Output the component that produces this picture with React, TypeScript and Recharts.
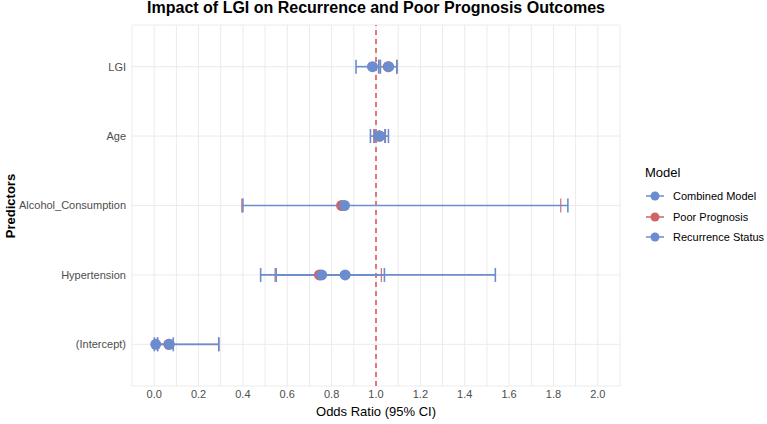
import React from "react";
import {
  ScatterChart,
  Scatter,
  XAxis,
  YAxis,
  CartesianGrid,
  ErrorBar,
  ReferenceLine,
} from "recharts";

// bottom to top, as ggplot stacks a discrete axis
const predictors = ["(Intercept)", "Hypertension", "Alcohol_Consumption", "Age", "LGI"];

const combinedOR = [0.068, 0.755, 0.858, 1.016, 1.057];
const combinedLo = [0.016, 0.55, 0.4, 0.975, 1.02];
const combinedHi = [0.292, 1.038, 1.865, 1.056, 1.095];

const poorOR = [0.066, 0.745, 0.845, 1.015, 1.055];
const poorLo = [0.014, 0.545, 0.395, 0.99, 1.018];
const poorHi = [0.29, 1.024, 1.833, 1.043, 1.093];

const recurrenceOR = [0.007, 0.861, null, 1.016, 0.984];
const recurrenceLo = [0.0005, 0.48, null, 0.993, 0.91];
const recurrenceHi = [0.086, 1.538, null, 1.04, 1.012];

const xGridTicks = [
  -0.1, 0, 0.1, 0.2, 0.3, 0.4, 0.5, 0.6, 0.7, 0.8, 0.9, 1.0, 1.1, 1.2, 1.3, 1.4,
  1.5, 1.6, 1.7, 1.8, 1.9, 2.0, 2.1,
];
const xLabelTicks = [0, 0.2, 0.4, 0.6, 0.8, 1.0, 1.2, 1.4, 1.6, 1.8, 2.0];
const yTicks = [1, 2, 3, 4, 5];

const BLUE = "#6b8cce";
const RED = "#cd6467";

const legendItems = [
  { name: "Combined Model", color: BLUE },
  { name: "Poor Prognosis", color: RED },
  { name: "Recurrence Status", color: BLUE },
];

function buildRows(or: (number | null)[], lo: (number | null)[], hi: (number | null)[]) {
  const rows: { y: number; or: number; err: number[] }[] = [];
  or.forEach((v, i) => {
    if (v == null) return;
    rows.push({ y: i + 1, or: v, err: [v - (lo[i] as number), (hi[i] as number) - v] });
  });
  return rows;
}

const poorRows = buildRows(poorOR, poorLo, poorHi);
const combinedRows = buildRows(combinedOR, combinedLo, combinedHi);
const recurrenceRows = buildRows(recurrenceOR, recurrenceLo, recurrenceHi);

const dot = (color: string) => (p: any) =>
  <circle cx={p.cx} cy={p.cy} r={5.5} fill={color} />;

const fmtX = (v: number) =>
  xLabelTicks.some((t) => Math.abs(t - v) < 1e-9) ? v.toFixed(1) : "";

export default function App() {
  const font = "'Liberation Sans', Arial, sans-serif";
  return (
    <div
      style={{
        position: "absolute",
        left: 0,
        top: 0,
        width: 767,
        height: 424,
        background: "#fff",
        fontFamily: font,
        overflow: "hidden",
      }}
    >
      <div
        style={{
          position: "absolute",
          top: 0,
          left: 132,
          width: 488,
          textAlign: "center",
          fontSize: 16,
          lineHeight: "16px",
          fontWeight: "bold",
          whiteSpace: "nowrap",
        }}
      >
        Impact of LGI on Recurrence and Poor Prognosis Outcomes
      </div>

      <div
        style={{
          position: "absolute",
          left: 10,
          top: 206,
          transform: "translate(-50%, -50%) rotate(-90deg)",
          fontSize: 13,
          fontWeight: "bold",
          whiteSpace: "nowrap",
        }}
      >
        Predictors
      </div>

      <ScatterChart
        width={767}
        height={424}
        margin={{ top: 25, right: 147, bottom: 0, left: 0 }}
        style={{ fontFamily: font }}
      >
        <CartesianGrid stroke="#ebebeb" strokeWidth={1} />
        <XAxis
          type="number"
          dataKey="or"
          domain={[-0.1, 2.1]}
          ticks={xGridTicks}
          interval={0}
          tickFormatter={fmtX}
          height={38}
          tickLine={false}
          axisLine={false}
          tickSize={0}
          tickMargin={4}
          tick={{ fontSize: 11, fill: "#4d4d4d" }}
          allowDataOverflow
        />
        <YAxis
          type="number"
          dataKey="y"
          domain={[0.4, 5.6]}
          ticks={yTicks}
          interval={0}
          tickFormatter={(v: number) => predictors[v - 1]}
          width={132}
          tickLine={false}
          axisLine={false}
          tickSize={0}
          tickMargin={6}
          tick={{ fontSize: 11, fill: "#4d4d4d" }}
        />
        <ReferenceLine
          x={1}
          stroke="#d7373c"
          strokeWidth={1.3}
          strokeDasharray="5 4"
          ifOverflow="extendDomain"
        />
        <Scatter data={poorRows} fill={RED} shape={dot(RED)} isAnimationActive={false}>
          <ErrorBar dataKey="err" direction="x" width={7} stroke={RED} strokeWidth={1.1} />
        </Scatter>
        <Scatter data={combinedRows} fill={BLUE} shape={dot(BLUE)} isAnimationActive={false}>
          <ErrorBar dataKey="err" direction="x" width={7} stroke={BLUE} strokeWidth={1.6} />
        </Scatter>
        <Scatter data={recurrenceRows} fill={BLUE} shape={dot(BLUE)} isAnimationActive={false}>
          <ErrorBar dataKey="err" direction="x" width={7} stroke={BLUE} strokeWidth={1.6} />
        </Scatter>
      </ScatterChart>

      <div
        style={{
          position: "absolute",
          left: 376,
          top: 411,
          transform: "translate(-50%, -50%)",
          fontSize: 13,
          whiteSpace: "nowrap",
        }}
      >
        Odds Ratio (95% CI)
      </div>

      <div style={{ position: "absolute", left: 645, top: 164 }}>
        <div style={{ fontSize: 13, lineHeight: "18px", marginBottom: 4 }}>Model</div>
        {legendItems.map((it) => (
          <div
            key={it.name}
            style={{ display: "flex", alignItems: "center", height: 20.5, fontSize: 11 }}
          >
            <svg width={20} height={12} style={{ marginRight: 8 }}>
              <line x1={1} y1={6} x2={19} y2={6} stroke={it.color} strokeWidth={1.5} />
              <circle cx={10} cy={6} r={4.5} fill={it.color} />
            </svg>
            <span>{it.name}</span>
          </div>
        ))}
      </div>
    </div>
  );
}
